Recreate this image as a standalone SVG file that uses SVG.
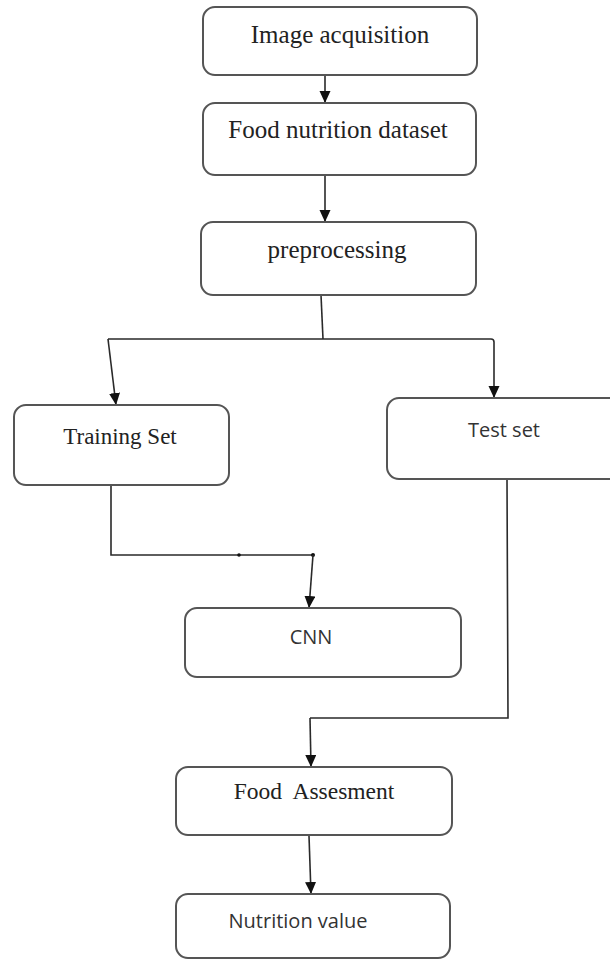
<svg xmlns="http://www.w3.org/2000/svg" width="610" height="960" viewBox="0 0 610 960">
<style>
.box{fill:#fff;stroke:#555;stroke-width:2}
.ln{fill:none;stroke:#2a2a2a;stroke-width:1.6}
.ar{fill:none;stroke:#2a2a2a;stroke-width:1.6;marker-end:url(#ah)}
.serif{font-family:"Liberation Serif","Times New Roman",serif;fill:#222;text-anchor:middle}
.sans{font-family:"Open Sans","Noto Sans",sans-serif;fill:#333;text-anchor:middle}
</style>
<defs>
<marker id="ah" markerUnits="userSpaceOnUse" markerWidth="13" markerHeight="12" refX="12" refY="5.5" orient="auto">
<path d="M0,0 L12,5.5 L0,11 z" fill="#111"/>
</marker>
</defs>
<rect width="610" height="960" fill="#fff"/>
<g id="connectors">
<path class="ar" d="M325,75 L325,103"/>
<path class="ar" d="M325,175 L325,222"/>
<path class="ln" d="M321,295 L323,339"/>
<path class="ln" d="M108,339 L491,339 Q494,339 494,342"/>
<path class="ar" d="M108,339 L116,405"/>
<path class="ar" d="M494,342 L494,398"/>
<path class="ln" d="M111,485 L111,555 L313,555"/>
<circle cx="239" cy="555" r="1.8" fill="#111"/>
<circle cx="313" cy="555" r="2" fill="#111"/>
<path class="ar" d="M313,555 L309,608"/>
<path class="ln" d="M507,479 L508,718 L310,718"/>
<path class="ar" d="M310,718 L311,767"/>
<path class="ar" d="M309,836 L311,894"/>
</g>
<g id="node-image-acquisition">
<rect class="box" x="203" y="7" width="274" height="68" rx="12"/>
<text class="serif" x="340" y="43" font-size="25">Image acquisition</text>
</g>
<g id="node-food-nutrition-dataset">
<rect class="box" x="203" y="103" width="273" height="72" rx="12"/>
<text class="serif" x="338" y="138" font-size="25">Food nutrition dataset</text>
</g>
<g id="node-preprocessing">
<rect class="box" x="201" y="222" width="275" height="73" rx="12"/>
<text class="serif" x="337" y="258" font-size="25">preprocessing</text>
</g>
<g id="node-training-set">
<rect class="box" x="14" y="405" width="215" height="80" rx="12"/>
<text class="serif" x="120" y="444" font-size="23">Training Set</text>
</g>
<g id="node-test-set">
<rect class="box" x="387" y="398" width="240" height="81" rx="12"/>
<text class="sans" x="504" y="437" font-size="20">Test set</text>
</g>
<g id="node-cnn">
<rect class="box" x="185" y="608" width="276" height="69" rx="12"/>
<text class="sans" x="311" y="644" font-size="20">CNN</text>
</g>
<g id="node-food-assesment">
<rect class="box" x="176" y="767" width="276" height="68" rx="12"/>
<text class="serif" x="314" y="799" font-size="23.5" xml:space="preserve">Food  Assesment</text>
</g>
<g id="node-nutrition-value">
<rect class="box" x="176" y="894" width="274" height="64" rx="12"/>
<text class="sans" x="298" y="928" font-size="20">Nutrition value</text>
</g>
</svg>
